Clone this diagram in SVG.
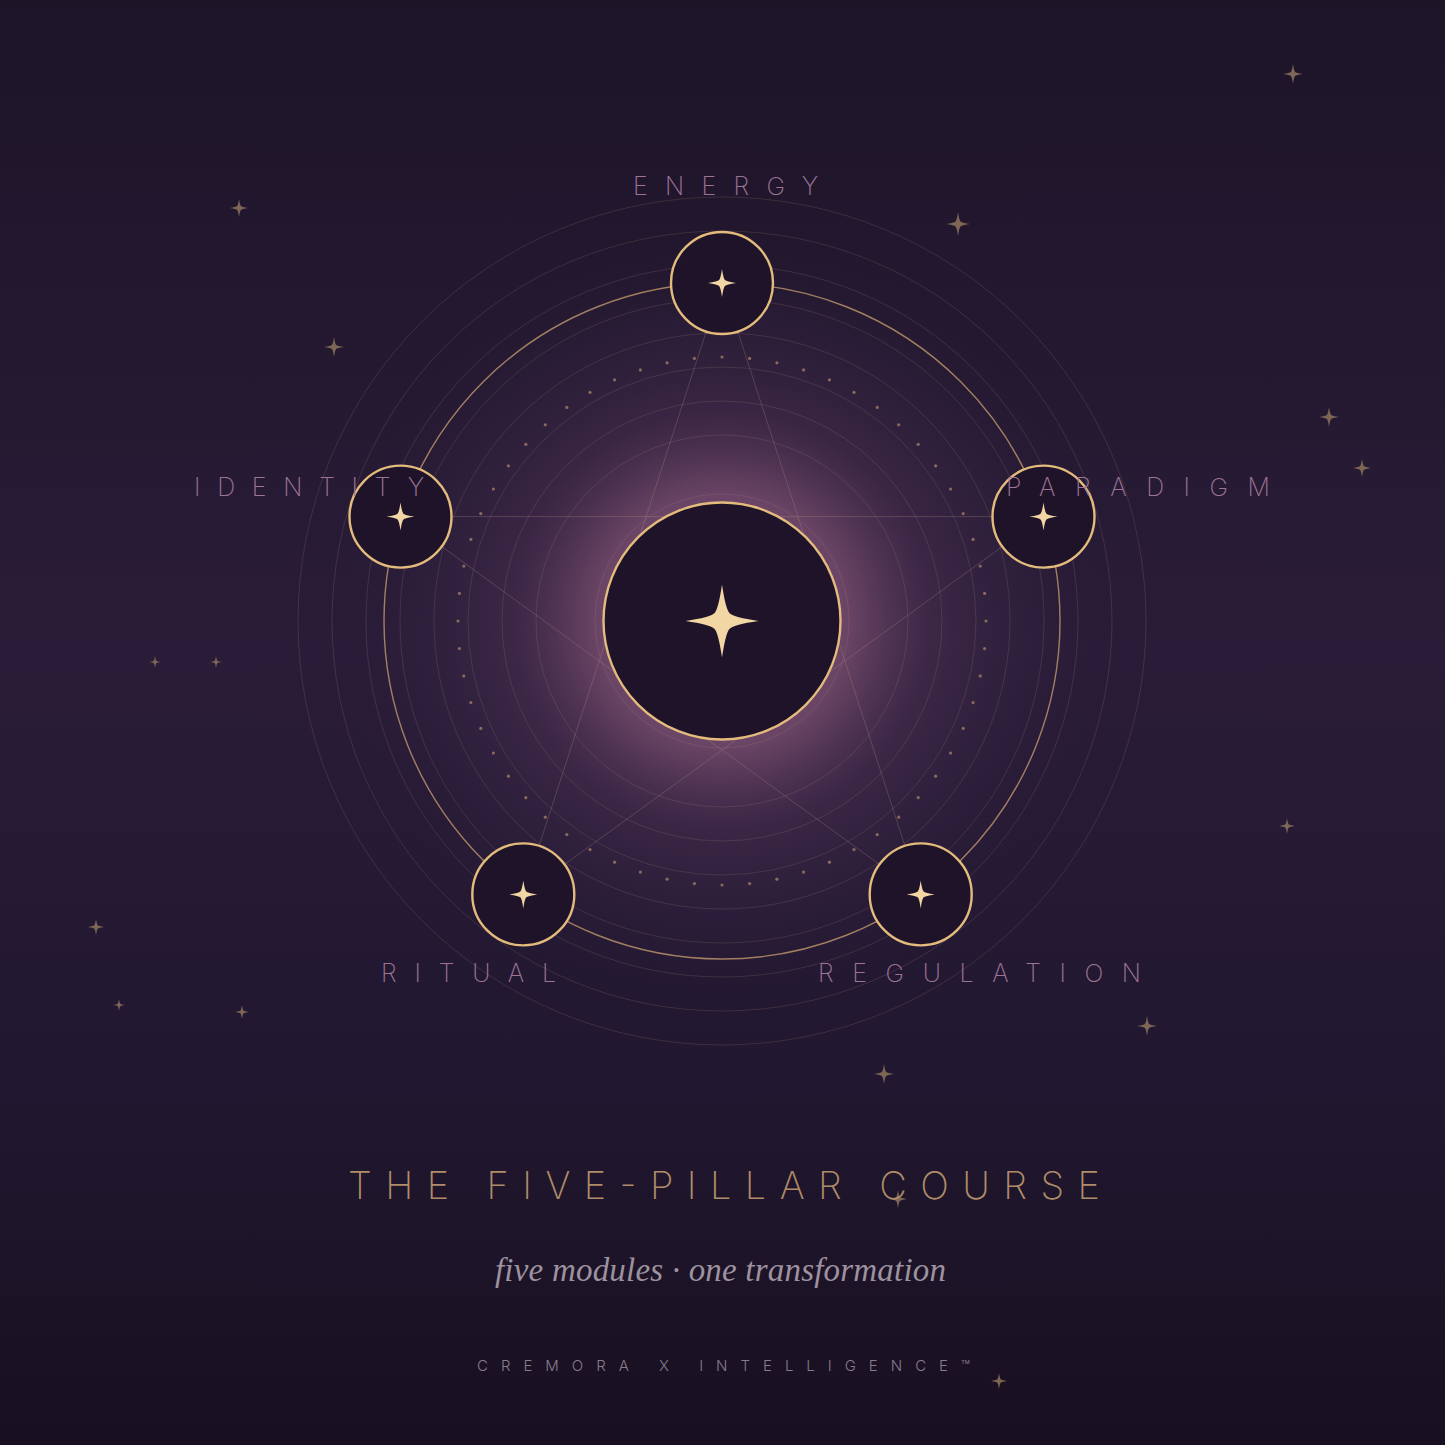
<svg xmlns="http://www.w3.org/2000/svg" xmlns:xlink="http://www.w3.org/1999/xlink" width="1445" height="1445" viewBox="0 0 1445 1445">
  <defs>
    <linearGradient id="bg" x1="0" y1="0" x2="0" y2="1">
      <stop offset="0" stop-color="#1d1428"/>
      <stop offset="0.45" stop-color="#2a1c38"/>
      <stop offset="0.75" stop-color="#211730"/>
      <stop offset="1" stop-color="#181020"/>
    </linearGradient>
    <radialGradient id="glow" gradientUnits="userSpaceOnUse" cx="722" cy="621" r="380">
      <stop offset="0" stop-color="#8e5c84" stop-opacity="1"/>
      <stop offset="0.33" stop-color="#704869" stop-opacity="0.92"/>
      <stop offset="0.55" stop-color="#4b3052" stop-opacity="0.55"/>
      <stop offset="0.8" stop-color="#3a2848" stop-opacity="0.25"/>
      <stop offset="1" stop-color="#2c1e3a" stop-opacity="0"/>
    </radialGradient>
    <path id="star" d="M0,-1 Q0.1,-0.32 0.21,-0.21 Q0.32,-0.1 1,0 Q0.32,0.1 0.21,0.21 Q0.1,0.32 0,1 Q-0.1,0.32 -0.21,0.21 Q-0.32,0.1 -1,0 Q-0.32,-0.1 -0.21,-0.21 Q-0.1,-0.32 0,-1Z"/>
    <style>
      .ring { fill: none; stroke: #a88576; stroke-width: 1; stroke-opacity: 0.2; }
      .main-ring { fill: none; stroke: #b8916a; stroke-width: 1.4; stroke-opacity: 0.85; }
      .conn { stroke: #b08a86; stroke-width: 1; stroke-opacity: 0.3; fill: none; }
      .dot { fill: #a88366; fill-opacity: 0.75; }
      .node { fill: #1f132a; stroke: #e3bb7c; stroke-width: 2.4; }
      .node-star { fill: #f2d6a4; }
      .bgstar { fill: #7e6657; }
      .label { font-family: Inter, Lato, "Liberation Sans", sans-serif; font-weight: 200; font-size: 25px; fill: #9c7595; }
      .title { font-family: Inter, Lato, "Liberation Sans", sans-serif; font-weight: 200; font-size: 38px; fill: #b08c68; }
      .sub { font-family: "Liberation Serif", "DejaVu Serif", serif; font-style: italic; font-size: 33px; fill: #9d929f; }
      .foot { font-family: Inter, Lato, "Liberation Sans", sans-serif; font-weight: 300; font-size: 15px; fill: #887d8a; }
    </style>
  </defs>

  <rect x="0" y="0" width="1445" height="1445" fill="url(#bg)"/>
  <circle cx="722" cy="621" r="380" fill="url(#glow)"/>

  <g id="rings">
    <circle class="ring" cx="722" cy="621" r="127" stroke-opacity="0.3"/>
    <circle class="ring" cx="722" cy="621" r="186"/>
    <circle class="ring" cx="722" cy="621" r="220"/>
    <circle class="ring" cx="722" cy="621" r="254"/>
    <circle class="ring" cx="722" cy="621" r="288"/>
    <circle class="ring" cx="722" cy="621" r="322"/>
    <circle class="ring" cx="722" cy="621" r="356" stroke-opacity="0.16"/>
    <circle class="ring" cx="722" cy="621" r="390" stroke-opacity="0.12"/>
    <circle class="ring" cx="722" cy="621" r="424" stroke-opacity="0.09"/>
    <circle class="main-ring" cx="722" cy="621" r="338"/>
  </g>

  <g id="dots">
    <circle class="dot" cx="986" cy="621.0" r="1.6"/><circle class="dot" cx="984.6" cy="648.6" r="1.6"/><circle class="dot" cx="980.2" cy="675.9" r="1.6"/><circle class="dot" cx="973.1" cy="702.6" r="1.6"/><circle class="dot" cx="963.2" cy="728.4" r="1.6"/><circle class="dot" cx="950.6" cy="753.0" r="1.6"/><circle class="dot" cx="935.6" cy="776.2" r="1.6"/><circle class="dot" cx="918.2" cy="797.7" r="1.6"/><circle class="dot" cx="898.7" cy="817.2" r="1.6"/><circle class="dot" cx="877.2" cy="834.6" r="1.6"/><circle class="dot" cx="854.0" cy="849.6" r="1.6"/><circle class="dot" cx="829.4" cy="862.2" r="1.6"/><circle class="dot" cx="803.6" cy="872.1" r="1.6"/><circle class="dot" cx="776.9" cy="879.2" r="1.6"/><circle class="dot" cx="749.6" cy="883.6" r="1.6"/><circle class="dot" cx="722.0" cy="885.0" r="1.6"/><circle class="dot" cx="694.4" cy="883.6" r="1.6"/><circle class="dot" cx="667.1" cy="879.2" r="1.6"/><circle class="dot" cx="640.4" cy="872.1" r="1.6"/><circle class="dot" cx="614.6" cy="862.2" r="1.6"/><circle class="dot" cx="590.0" cy="849.6" r="1.6"/><circle class="dot" cx="566.8" cy="834.6" r="1.6"/><circle class="dot" cx="545.3" cy="817.2" r="1.6"/><circle class="dot" cx="525.8" cy="797.7" r="1.6"/><circle class="dot" cx="508.4" cy="776.2" r="1.6"/><circle class="dot" cx="493.4" cy="753.0" r="1.6"/><circle class="dot" cx="480.8" cy="728.4" r="1.6"/><circle class="dot" cx="470.9" cy="702.6" r="1.6"/><circle class="dot" cx="463.8" cy="675.9" r="1.6"/><circle class="dot" cx="459.4" cy="648.6" r="1.6"/><circle class="dot" cx="458.0" cy="621.0" r="1.6"/><circle class="dot" cx="459.4" cy="593.4" r="1.6"/><circle class="dot" cx="463.8" cy="566.1" r="1.6"/><circle class="dot" cx="470.9" cy="539.4" r="1.6"/><circle class="dot" cx="480.8" cy="513.6" r="1.6"/><circle class="dot" cx="493.4" cy="489.0" r="1.6"/><circle class="dot" cx="508.4" cy="465.8" r="1.6"/><circle class="dot" cx="525.8" cy="444.3" r="1.6"/><circle class="dot" cx="545.3" cy="424.8" r="1.6"/><circle class="dot" cx="566.8" cy="407.4" r="1.6"/><circle class="dot" cx="590.0" cy="392.4" r="1.6"/><circle class="dot" cx="614.6" cy="379.8" r="1.6"/><circle class="dot" cx="640.4" cy="369.9" r="1.6"/><circle class="dot" cx="667.1" cy="362.8" r="1.6"/><circle class="dot" cx="694.4" cy="358.4" r="1.6"/><circle class="dot" cx="722.0" cy="357.0" r="1.6"/><circle class="dot" cx="749.6" cy="358.4" r="1.6"/><circle class="dot" cx="776.9" cy="362.8" r="1.6"/><circle class="dot" cx="803.6" cy="369.9" r="1.6"/><circle class="dot" cx="829.4" cy="379.8" r="1.6"/><circle class="dot" cx="854.0" cy="392.4" r="1.6"/><circle class="dot" cx="877.2" cy="407.4" r="1.6"/><circle class="dot" cx="898.7" cy="424.8" r="1.6"/><circle class="dot" cx="918.2" cy="444.3" r="1.6"/><circle class="dot" cx="935.6" cy="465.8" r="1.6"/><circle class="dot" cx="950.6" cy="489.0" r="1.6"/><circle class="dot" cx="963.2" cy="513.6" r="1.6"/><circle class="dot" cx="973.1" cy="539.4" r="1.6"/><circle class="dot" cx="980.2" cy="566.1" r="1.6"/><circle class="dot" cx="984.6" cy="593.4" r="1.6"/>
  </g>

  <g id="connectors">
    <line class="conn" x1="722" y1="283" x2="523.3" y2="894.4"/>
    <line class="conn" x1="722" y1="283" x2="920.7" y2="894.4"/>
    <line class="conn" x1="400.5" y1="516.6" x2="1043.5" y2="516.6"/>
    <line class="conn" x1="400.5" y1="516.6" x2="920.7" y2="894.4"/>
    <line class="conn" x1="1043.5" y1="516.6" x2="523.3" y2="894.4"/>
  </g>

  <g id="background-stars">
    <use href="#star" class="bgstar" transform="translate(1293,74) scale(10)"/>
    <use href="#star" class="bgstar" transform="translate(239,208) scale(9)"/>
    <use href="#star" class="bgstar" transform="translate(958,224) scale(12)"/>
    <use href="#star" class="bgstar" transform="translate(334,347) scale(10)"/>
    <use href="#star" class="bgstar" transform="translate(1329,417) scale(10)"/>
    <use href="#star" class="bgstar" transform="translate(1362,468) scale(9)"/>
    <use href="#star" class="bgstar" transform="translate(155,662) scale(6)"/>
    <use href="#star" class="bgstar" transform="translate(216,662) scale(6)"/>
    <use href="#star" class="bgstar" transform="translate(1287,826) scale(8)"/>
    <use href="#star" class="bgstar" transform="translate(96,927) scale(8)"/>
    <use href="#star" class="bgstar" transform="translate(119,1005) scale(6)"/>
    <use href="#star" class="bgstar" transform="translate(242,1012) scale(7)"/>
    <use href="#star" class="bgstar" transform="translate(1147,1026) scale(10)"/>
    <use href="#star" class="bgstar" transform="translate(884,1074) scale(10)"/>
    <use href="#star" class="bgstar" transform="translate(898,1199) scale(9)"/>
    <use href="#star" class="bgstar" transform="translate(999,1381) scale(8)"/>
  </g>

  <g id="node-center">
    <circle class="node" cx="722" cy="621" r="118.5"/>
    <use href="#star" class="node-star" transform="translate(722,621) scale(36.5)"/>
  </g>
  <g id="node-energy">
    <circle class="node" cx="722" cy="283" r="51"/>
    <use href="#star" class="node-star" transform="translate(722,283) scale(14)"/>
    <text class="label" x="633" y="195" textLength="185" lengthAdjust="spacing">ENERGY</text>
  </g>
  <g id="node-identity">
    <circle class="node" cx="400.5" cy="516.6" r="51"/>
    <use href="#star" class="node-star" transform="translate(400.5,516.6) scale(14)"/>
    <text class="label" x="194" y="496" textLength="230" lengthAdjust="spacing">IDENTITY</text>
  </g>
  <g id="node-paradigm">
    <circle class="node" cx="1043.5" cy="516.6" r="51"/>
    <use href="#star" class="node-star" transform="translate(1043.5,516.6) scale(14)"/>
    <text class="label" x="1006" y="496" textLength="264" lengthAdjust="spacing">PARADIGM</text>
  </g>
  <g id="node-ritual">
    <circle class="node" cx="523.3" cy="894.4" r="51"/>
    <use href="#star" class="node-star" transform="translate(523.3,894.4) scale(14)"/>
    <text class="label" x="381" y="982" textLength="175" lengthAdjust="spacing">RITUAL</text>
  </g>
  <g id="node-regulation">
    <circle class="node" cx="920.7" cy="894.4" r="51"/>
    <use href="#star" class="node-star" transform="translate(920.7,894.4) scale(14)"/>
    <text class="label" x="818" y="982" textLength="323" lengthAdjust="spacing">REGULATION</text>
  </g>

  <g id="titles">
    <text class="title" x="348" y="1199" textLength="752" lengthAdjust="spacing">THE FIVE-PILLAR COURSE</text>
    <text class="sub" x="495" y="1281" textLength="451" lengthAdjust="spacing">five modules · one transformation</text>
    <text class="foot" x="477" y="1371" textLength="493" lengthAdjust="spacing">CREMORA X INTELLIGENCE™</text>
  </g>
</svg>
